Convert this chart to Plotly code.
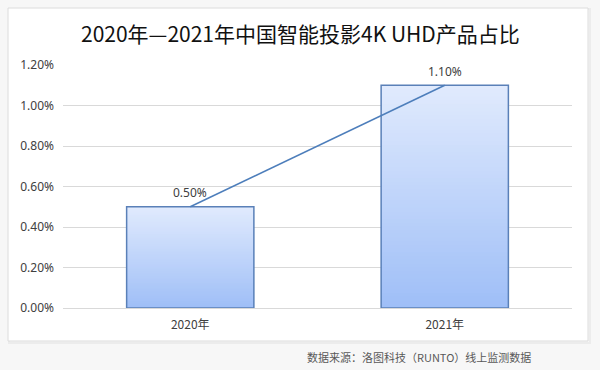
import plotly.graph_objects as go

categories = ["2020年", "2021年"]
values = [0.005, 0.011]
value_labels = ["0.50%", "1.10%"]
tick_vals = [0, 0.002, 0.004, 0.006, 0.008, 0.010, 0.012]

title_text = "2020年—2021年中国智能投影4K UHD产品占比"
source_text = "数据来源：洛图科技（RUNTO）线上监测数据"

W, H = 600, 370
L, R, T, B = 63, 28, 65, 62
pw, ph = W - L - R, H - T - B

def px2paper_x(px):
    return (px - L) / pw

def px2paper_y(py):
    return (H - B - py) / ph

fig = go.Figure()

# gradient bars: overlapping bars from full height (light) to short (dark)
N = 60
top_rgb = (224, 234, 253)
bot_rgb = (158, 190, 247)
for k in range(N):
    f = (N - k) / N
    c = tuple(int(round(bot_rgb[i] + (top_rgb[i] - bot_rgb[i]) * f)) for i in range(3))
    fig.add_trace(go.Bar(
        x=categories,
        y=[v * f for v in values],
        marker=dict(color="rgb(%d,%d,%d)" % c, line=dict(width=0)),
        width=0.5, hoverinfo="skip", showlegend=False,
    ))

# outline
fig.add_trace(go.Bar(
    x=categories, y=values, width=0.5,
    marker=dict(color="rgba(0,0,0,0)", line=dict(color="#5a80b8", width=1.5)),
    showlegend=False,
))

# connecting line
fig.add_trace(go.Scatter(
    x=categories, y=values, mode="lines",
    line=dict(color="#4d7ebb", width=1.5),
    showlegend=False, cliponaxis=False,
))

for cat, v, lab in zip(categories, values, value_labels):
    fig.add_annotation(x=cat, y=v, text=lab, showarrow=False, yshift=14,
                       font=dict(family="Noto Sans, Open Sans, sans-serif", size=12, color="#404040"))

# card
fig.add_shape(type="rect", xref="paper", yref="paper",
              x0=px2paper_x(9), x1=px2paper_x(590), y0=px2paper_y(9), y1=px2paper_y(343),
              line=dict(color="#ececec", width=2), fillcolor="rgba(0,0,0,0)", layer="below")
fig.add_shape(type="rect", xref="paper", yref="paper",
              x0=px2paper_x(8), x1=px2paper_x(588), y0=px2paper_y(8), y1=px2paper_y(341),
              line=dict(color="#dcdcdc", width=1), fillcolor="white", layer="below")

fig.add_annotation(text=title_text, xref="paper", yref="paper",
                   x=px2paper_x(300), y=px2paper_y(33), showarrow=False,
                   xanchor="center", yanchor="middle",
                   font=dict(family="Noto Sans CJK SC", size=21, color="#111111"))

fig.add_annotation(text=source_text, xref="paper", yref="paper",
                   x=px2paper_x(305), y=px2paper_y(357), showarrow=False,
                   xanchor="left", yanchor="middle",
                   font=dict(family="Noto Sans CJK SC", size=11, color="#595959"))

fig.update_layout(
    width=W, height=H,
    margin=dict(l=L, r=R, t=T, b=B),
    paper_bgcolor="#f7f7f7", plot_bgcolor="rgba(0,0,0,0)",
    barmode="overlay", bargap=0.5,
    font=dict(family="Noto Sans, Open Sans, sans-serif", size=12, color="#404040"),
    xaxis=dict(showgrid=False, showline=False, ticks="",
               tickfont=dict(family="Noto Sans CJK SC", size=12, color="#404040"),
               ticklabelstandoff=8),
    yaxis=dict(range=[0, 0.012], tickvals=tick_vals, tickformat=".2%",
               showgrid=True, gridcolor="#d9d9d9", gridwidth=1,
               zeroline=True, zerolinecolor="#d9d9d9", zerolinewidth=1,
               showline=False, ticks="", ticklabelstandoff=8,
               tickfont=dict(size=12, color="#404040")),
)

fig.write_html("out.html", config={"displayModeBar": False},
               post_script="document.body.style.margin='0';")
